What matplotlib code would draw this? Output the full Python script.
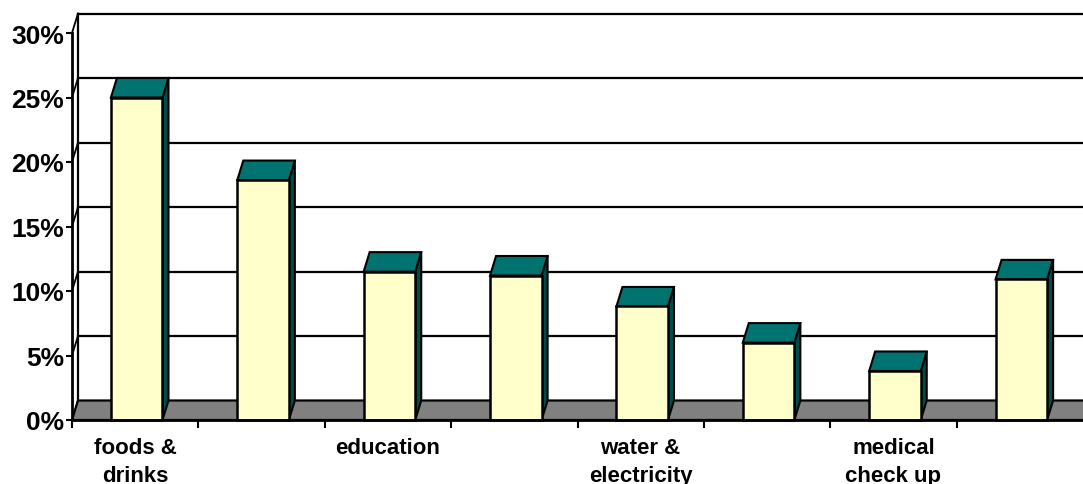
import matplotlib.pyplot as plt
from matplotlib.patches import Polygon, Rectangle

# Data
categories = ['foods &\ndrinks', '', 'education', '', 'water &\nelectricity', '', 'medical\ncheck up', '']
values = [25.0, 18.6, 11.5, 11.2, 8.8, 6.0, 3.8, 10.9]
yticks = [0, 5, 10, 15, 20, 25, 30]
ytick_labels = ['0%', '5%', '10%', '15%', '20%', '25%', '30%']

plt.rcParams['font.family'] = ['Liberation Sans', 'DejaVu Sans']

W, H, DPI = 1083, 485, 100
fig = plt.figure(figsize=(W / DPI, H / DPI), dpi=DPI)
ax = fig.add_axes([72 / W, 64 / H, 1011 / W, 387 / H])
n = len(values)
ax.set_xlim(0, n)
ax.set_ylim(0, 30)

# depth offset (pixels -> data units)
px_x = 1011 / n
px_y = 387 / 30
dx = 6 / px_x
dy = 19.5 / px_y

front_col = '#FFFFCC'
top_col = '#007370'
side_col = '#004C4A'

# back wall gridlines and left wall
for y in yticks:
    if y > 0:
        ax.plot([dx, n + dx + 1], [y + dy, y + dy], color='black', lw=1.6, clip_on=False, zorder=1)
    ax.plot([0, dx], [y, y + dy], color='black', lw=1.3, clip_on=False, zorder=1)
ax.plot([dx, dx], [dy, 30 + dy], color='black', lw=1.6, clip_on=False, zorder=1)

# floor
floor = Polygon([(0, 0), (n + 1, 0), (n + 1 + dx, dy), (dx, dy)], closed=True,
                facecolor='#808080', edgecolor='black', lw=1.6, clip_on=False, zorder=2)
ax.add_patch(floor)

# bars
w = 0.408
for i, v in enumerate(values):
    x0 = i + 0.512 - w / 2
    x1 = x0 + w
    side = Polygon([(x1, 0), (x1 + dx, dy), (x1 + dx, v + dy), (x1, v)], closed=True,
                   facecolor=side_col, edgecolor='black', lw=1.5, clip_on=False, zorder=3)
    top = Polygon([(x0, v), (x1, v), (x1 + dx, v + dy), (x0 + dx, v + dy)], closed=True,
                  facecolor=top_col, edgecolor='black', lw=1.5, clip_on=False, zorder=3)
    front = Rectangle((x0, 0), w, v, facecolor=front_col, edgecolor='black', lw=1.8,
                      clip_on=False, zorder=4)
    ax.add_patch(side)
    ax.add_patch(top)
    ax.add_patch(front)

for s in ['top', 'right']:
    ax.spines[s].set_visible(False)
for s in ['left', 'bottom']:
    ax.spines[s].set_linewidth(2)
    ax.spines[s].set_zorder(5)

ax.set_yticks(yticks)
ax.set_yticklabels(ytick_labels, fontsize=19, fontweight='bold')
ax.tick_params(axis='y', length=4, width=1.5, pad=1.5)

ax.set_xticks([i + 0.5 for i in range(n)])
ax.set_xticklabels(categories, fontsize=16, fontweight='bold', linespacing=1.45, va='top')
ax.set_xticks(list(range(n)), minor=True)
ax.tick_params(axis='x', which='major', length=0, pad=12)
ax.tick_params(axis='x', which='minor', length=6, width=1.5)

ax.set_facecolor('none')
fig.savefig('out.png', dpi=DPI)
